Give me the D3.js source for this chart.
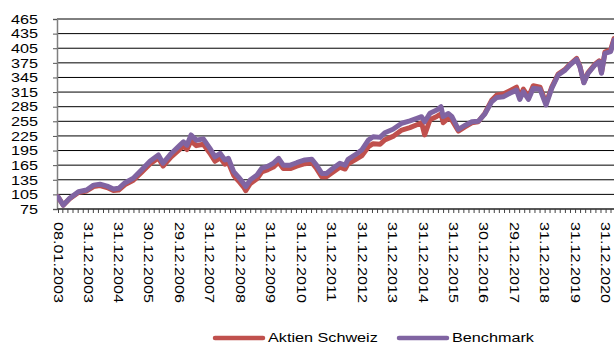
<!DOCTYPE html>
<html>
<head>
<meta charset="utf-8">
<script src="https://cdn.jsdelivr.net/npm/d3@7"></script>
<style>
  html, body { margin: 0; padding: 0; background: #fff; }
  svg { display: block; font-family: "Liberation Sans", Arial, sans-serif; }
</style>
</head>
<body>
<svg id="chart" width="614" height="345"></svg>
<script>
// Observation dates and index levels (start = 100)
const dates = [
  "2003-01-08","2003-03-12","2003-05-28","2003-09-10","2003-12-17",
  "2004-03-10","2004-05-26","2004-08-18","2004-11-03","2005-01-05",
  "2005-03-23","2005-06-29","2005-10-05","2006-01-18","2006-04-26",
  "2006-06-21","2006-09-27","2007-01-10","2007-02-21","2007-04-04",
  "2007-05-23","2007-07-25","2007-10-17","2008-01-02","2008-03-05",
  "2008-05-07","2008-07-02","2008-08-13","2008-10-15","2008-12-10",
  "2009-02-11","2009-03-09","2009-05-01","2009-07-22","2009-09-16",
  "2009-12-02","2010-02-03","2010-04-07","2010-06-02","2010-08-25",
  "2010-11-10","2011-02-16","2011-05-11","2011-07-06","2011-09-07",
  "2011-11-02","2012-01-04","2012-04-11","2012-06-13","2012-07-18",
  "2012-10-10","2012-12-28","2013-03-20","2013-05-15","2013-08-07",
  "2013-10-02","2014-01-08","2014-04-23","2014-07-30","2014-10-22",
  "2014-12-17","2015-01-23","2015-03-27","2015-06-17","2015-08-07",
  "2015-09-02","2015-11-04","2015-12-16","2016-03-02","2016-05-25",
  "2016-08-10","2016-10-26","2017-01-13","2017-04-05","2017-06-07",
  "2017-08-23","2017-11-10","2018-01-29","2018-03-09","2018-04-20",
  "2018-06-21","2018-08-17","2018-11-07","2019-01-18","2019-03-27",
  "2019-06-12","2019-09-04","2019-10-31","2020-01-20","2020-02-28",
  "2020-04-16","2020-06-05","2020-08-26","2020-10-15","2020-11-13",
  "2020-12-24","2021-03-03","2021-04-13"
];

const aktienSchweiz = [
  100, 83, 96, 109, 112,
  121, 123, 119, 113, 114,
  125, 134, 150, 168, 180,
  163, 182, 198, 204, 197,
  215, 205, 208, 190, 173,
  180, 167, 170, 144, 133,
  120, 112.6, 127, 137, 151,
  156, 161, 171, 158, 158,
  163, 168, 170, 158, 141,
  141, 149, 161, 157, 168,
  176, 184, 203, 209, 208,
  217, 224, 237, 242, 248,
  252, 227, 258, 265, 270,
  252, 262, 257, 235, 244,
  252, 254, 271, 298, 309,
  311, 318, 325, 305, 321,
  305, 328, 325, 292, 325,
  352, 362, 372, 384, 368,
  335, 355, 372, 379, 355,
  397, 402, 425
];

const benchmark = [
  100, 83, 97, 110.5, 114,
  124, 126, 122, 116, 117.5,
  129, 138, 155, 173.5, 186,
  169, 189, 206, 213, 206,
  227, 216, 219, 200, 182,
  189, 175.6, 179, 151.6, 141,
  127.7, 120.8, 134.5, 144.8, 158.5,
  163, 168.8, 179, 165, 165,
  170, 175.6, 177, 165, 148,
  148, 156.5, 168.8, 165, 177,
  186, 196, 216.6, 223.4, 222,
  231.6, 238.6, 251, 256, 261,
  264.5, 254, 271.4, 278, 285,
  264.5, 271, 264.5, 238.6, 247,
  254, 255, 270, 295, 304,
  305.5, 312.5, 319, 300, 315.8,
  300, 322.7, 320.7, 288.5, 322.7,
  350, 360, 370.6, 382, 367,
  334, 353.5, 370.6, 377, 353.5,
  394.6, 398, 422
];

const yTicks = [75, 105, 135, 165, 195, 225, 255, 285, 315, 345, 375, 405, 435, 465];

const xLabelDates = [
  "2003-01-08","2003-12-31","2004-12-31","2005-12-30","2006-12-29",
  "2007-12-31","2008-12-31","2009-12-31","2010-12-31","2011-12-31",
  "2012-12-31","2013-12-31","2014-12-31","2015-12-31","2016-12-30",
  "2017-12-29","2018-12-31","2019-12-31","2020-12-31"
];
const xLabels = [
  "08.01.2003","31.12.2003","31.12.2004","30.12.2005","29.12.2006",
  "31.12.2007","31.12.2008","31.12.2009","31.12.2010","31.12.2011",
  "31.12.2012","31.12.2013","31.12.2014","31.12.2015","30.12.2016",
  "29.12.2017","31.12.2018","31.12.2019","31.12.2020"
];

const seriesNames = ["Aktien Schweiz", "Benchmark"];
const seriesColors = ["#C0504D", "#8064A2"];

const W = 614, H = 345;
const plotLeft = 57, plotRight = W, plotTop = 19, plotBottom = 209;
const fontSize = 13.5, stretch = 1.2;

const parse = d3.timeParse("%Y-%m-%d");
const svg = d3.select("#chart");

const x = d3.scaleTime()
  .domain([parse("2003-01-08"), parse("2020-12-31")])
  .range([58, 605.5]);
const y = d3.scaleLinear()
  .domain([75, 465])
  .range([plotBottom, plotTop]);

// horizontal gridlines
svg.append("g")
  .selectAll("line")
  .data(yTicks)
  .join("line")
  .attr("x1", plotLeft).attr("x2", plotRight)
  .attr("y1", d => y(d)).attr("y2", d => y(d))
  .attr("stroke", "#000").attr("stroke-width", 1);

// value axis
const yAxis = svg.append("g")
  .attr("transform", `translate(${plotLeft},0)`)
  .call(d3.axisLeft(y).tickValues(yTicks).tickSize(4).tickFormat(""));
yAxis.select(".domain").attr("stroke", "#7f7f7f").attr("stroke-width", 1.5);
yAxis.selectAll(".tick line").attr("stroke", "#555");

svg.append("g")
  .selectAll("g")
  .data(yTicks)
  .join("g")
  .attr("transform", d => `translate(38,${y(d)})`)
  .append("text")
  .attr("transform", `scale(${stretch},1)`)
  .attr("text-anchor", "end")
  .attr("dy", "0.35em")
  .attr("font-size", fontSize)
  .attr("fill", "#000")
  .text(d => d);

// date axis with minor tick marks every two months
const tickDates = d3.timeMonth.every(2).range(parse("2003-01-08"), parse("2021-06-01"));
tickDates.unshift(parse("2003-01-08"));
const xAxis = svg.append("g")
  .attr("transform", `translate(0,${plotBottom})`)
  .call(d3.axisBottom(x).tickValues(tickDates).tickSize(4).tickFormat("").tickSizeOuter(0));
xAxis.select(".domain").remove();
xAxis.selectAll(".tick line").attr("stroke", "#444");
svg.append("line")
  .attr("x1", plotLeft).attr("x2", plotRight)
  .attr("y1", plotBottom).attr("y2", plotBottom)
  .attr("stroke", "#333").attr("stroke-width", 1);

svg.append("g")
  .selectAll("g")
  .data(xLabelDates)
  .join("g")
  .attr("transform", d => `translate(${x(parse(d)) + 0.5},222) rotate(90)`)
  .append("text")
  .attr("transform", `scale(${stretch},1)`)
  .attr("text-anchor", "start")
  .attr("dy", "0.35em")
  .attr("font-size", fontSize)
  .attr("fill", "#000")
  .text((d, i) => xLabels[i]);

// series lines
svg.append("clipPath").attr("id", "plotClip")
  .append("rect").attr("x", plotLeft).attr("y", 0)
  .attr("width", plotRight - plotLeft).attr("height", plotBottom + 5);

const line = d3.line()
  .x(d => x(d.date))
  .y(d => y(d.value));

const series = [aktienSchweiz, benchmark].map((vals, k) => ({
  name: seriesNames[k],
  color: seriesColors[k],
  points: dates.map((d, i) => ({ date: parse(d), value: vals[i] }))
}));

svg.append("g")
  .attr("clip-path", "url(#plotClip)")
  .selectAll("path")
  .data(series)
  .join("path")
  .attr("d", d => line(d.points))
  .attr("fill", "none")
  .attr("stroke", d => d.color)
  .attr("stroke-width", 5)
  .attr("stroke-linejoin", "round")
  .attr("stroke-linecap", "round");

// legend
const legendItems = [
  { name: seriesNames[0], color: seriesColors[0], x0: 215 },
  { name: seriesNames[1], color: seriesColors[1], x0: 399 }
];
const lg = svg.append("g")
  .selectAll("g")
  .data(legendItems)
  .join("g")
  .attr("transform", d => `translate(${d.x0},338)`);
lg.append("line")
  .attr("x1", 0).attr("x2", 48)
  .attr("y1", 0).attr("y2", 0)
  .attr("stroke", d => d.color)
  .attr("stroke-width", 4.5)
  .attr("stroke-linecap", "round");
lg.append("g")
  .attr("transform", "translate(53,4)")
  .append("text")
  .attr("transform", `scale(${stretch},1)`)
  .attr("font-size", fontSize)
  .attr("fill", "#000")
  .text(d => d.name);
</script>
</body>
</html>
